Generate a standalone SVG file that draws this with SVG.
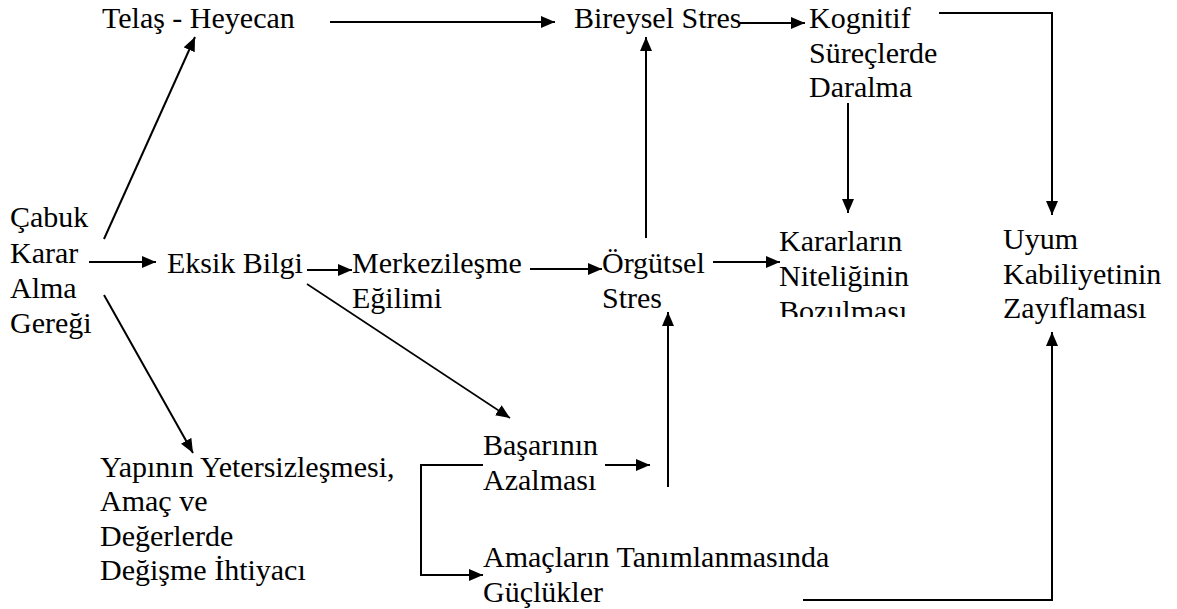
<svg xmlns="http://www.w3.org/2000/svg" width="1177" height="609" viewBox="0 0 1177 609">
  <defs>
    <marker id="ah" viewBox="0 0 14 12" refX="14" refY="6" markerWidth="14" markerHeight="12" markerUnits="userSpaceOnUse" orient="auto">
      <path d="M0,0 L14,6 L0,12 Z" fill="#000"/>
    </marker>
    <clipPath id="clipKarar">
      <rect x="760" y="200" width="200" height="117"/>
    </clipPath>
  </defs>
  <rect width="1177" height="609" fill="#fff"/>

  <g id="n-cabuk">
    <text x="10" y="227" font-family="Liberation Serif" font-size="30">Çabuk</text>
    <text x="10" y="263" font-family="Liberation Serif" font-size="30">Karar</text>
    <text x="10" y="298" font-family="Liberation Serif" font-size="30">Alma</text>
    <text x="10" y="333" font-family="Liberation Serif" font-size="30">Gereği</text>
  </g>
  <g id="n-telas"><text x="102" y="28" font-family="Liberation Serif" font-size="30">Telaş - Heyecan</text></g>
  <g id="n-bireysel"><text x="574" y="28" font-family="Liberation Serif" font-size="30">Bireysel Stres</text></g>
  <g id="n-kognitif">
    <text x="809" y="28" font-family="Liberation Serif" font-size="30">Kognitif</text>
    <text x="809" y="63" font-family="Liberation Serif" font-size="30">Süreçlerde</text>
    <text x="809" y="97" font-family="Liberation Serif" font-size="30">Daralma</text>
  </g>
  <g id="n-eksik"><text x="167" y="273" font-family="Liberation Serif" font-size="30">Eksik Bilgi</text></g>
  <g id="n-merkez">
    <text x="352" y="273" font-family="Liberation Serif" font-size="30">Merkezileşme</text>
    <text x="352" y="308" font-family="Liberation Serif" font-size="30">Eğilimi</text>
  </g>
  <g id="n-orgutsel">
    <text x="602" y="273" font-family="Liberation Serif" font-size="30">Örgütsel</text>
    <text x="602" y="308" font-family="Liberation Serif" font-size="30">Stres</text>
  </g>
  <g id="n-kararlar" clip-path="url(#clipKarar)">
    <text x="779" y="251" font-family="Liberation Serif" font-size="30">Kararların</text>
    <text x="779" y="286" font-family="Liberation Serif" font-size="30">Niteliğinin</text>
    <text x="779" y="321" font-family="Liberation Serif" font-size="30">Bozulması</text>
  </g>
  <g id="n-uyum">
    <text x="1003" y="249" font-family="Liberation Serif" font-size="30">Uyum</text>
    <text x="1003" y="284" font-family="Liberation Serif" font-size="30">Kabiliyetinin</text>
    <text x="1003" y="318" font-family="Liberation Serif" font-size="30">Zayıflaması</text>
  </g>
  <g id="n-yapi">
    <text x="100" y="477" font-family="Liberation Serif" font-size="30">Yapının Yetersizleşmesi,</text>
    <text x="100" y="511" font-family="Liberation Serif" font-size="30">Amaç ve</text>
    <text x="100" y="546" font-family="Liberation Serif" font-size="30">Değerlerde</text>
    <text x="100" y="580" font-family="Liberation Serif" font-size="30">Değişme İhtiyacı</text>
  </g>
  <g id="n-basari">
    <text x="483" y="455" font-family="Liberation Serif" font-size="30">Başarının</text>
    <text x="483" y="490" font-family="Liberation Serif" font-size="30">Azalması</text>
  </g>
  <g id="n-amac">
    <text x="483" y="567" font-family="Liberation Serif" font-size="30">Amaçların Tanımlanmasında</text>
    <text x="483" y="602" font-family="Liberation Serif" font-size="30">Güçlükler</text>
  </g>

  <!-- connectors share one stroke style and one arrowhead marker -->
  <g id="connectors" fill="none" stroke="#000" stroke-width="2">
    <path d="M330,22 H555" marker-end="url(#ah)"/>
    <path d="M740,23 H805" marker-end="url(#ah)"/>
    <path d="M939,13 H1052 V215" marker-end="url(#ah)"/>
    <path d="M848,103 V213" marker-end="url(#ah)"/>
    <path d="M646,238 V37" marker-end="url(#ah)"/>
    <path d="M104,239 L195,37" marker-end="url(#ah)"/>
    <path d="M89,262 H156" marker-end="url(#ah)"/>
    <path d="M104,295 L193,453" marker-end="url(#ah)"/>
    <path d="M307,270 H352" marker-end="url(#ah)"/>
    <path d="M307,284 L510,418" stroke-width="1.6" marker-end="url(#ah)"/>
    <path d="M530,269 H602" marker-end="url(#ah)"/>
    <path d="M713,262 H780" marker-end="url(#ah)"/>
    <path d="M605,465 H650" marker-end="url(#ah)"/>
    <path d="M668,487 V312" marker-end="url(#ah)"/>
    <path d="M483,465 H421 V575 H483" marker-end="url(#ah)"/>
    <path d="M803,600 H1052 V332" marker-end="url(#ah)"/>
  </g>
</svg>
